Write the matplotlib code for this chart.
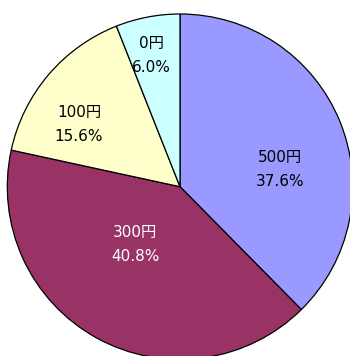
import matplotlib
matplotlib.use("Agg")
import matplotlib.pyplot as plt

# Data
categories = ["500円", "300円", "100円", "0円"]
shares = [37.6, 40.8, 15.6, 6.0]
colors = ["#9999FF", "#993366", "#FFFFCC", "#CCFFFF"]
text_colors = ["black", "white", "black", "black"]

# Layout (pixel coordinates, origin bottom-left)
W, H = 350, 356
pie_center = (180, 169.3)
pie_radius = 172.7
label_pos = [(280, 186.5), (135, 111.5), (79, 231.5), (151, 300.5)]

fig = plt.figure(figsize=(W / 100, H / 100), dpi=100)
ax = fig.add_axes([0, 0, 1, 1])
ax.pie(shares, colors=colors, startangle=90, counterclock=False,
       center=pie_center, radius=pie_radius, frame=True,
       wedgeprops=dict(edgecolor="black", linewidth=0.9))
ax.set_xlim(0, W)
ax.set_ylim(0, H)
ax.set_aspect("equal")
ax.axis("off")

for cat, val, (x, y), tc in zip(categories, shares, label_pos, text_colors):
    ax.text(x, y, f"{cat}\n{val:.1f}%", ha="center", va="center",
            color=tc, fontsize=11, linespacing=1.8,
            family=["DejaVu Sans", "Noto Sans CJK JP"])

fig.savefig("out.png", dpi=100)
